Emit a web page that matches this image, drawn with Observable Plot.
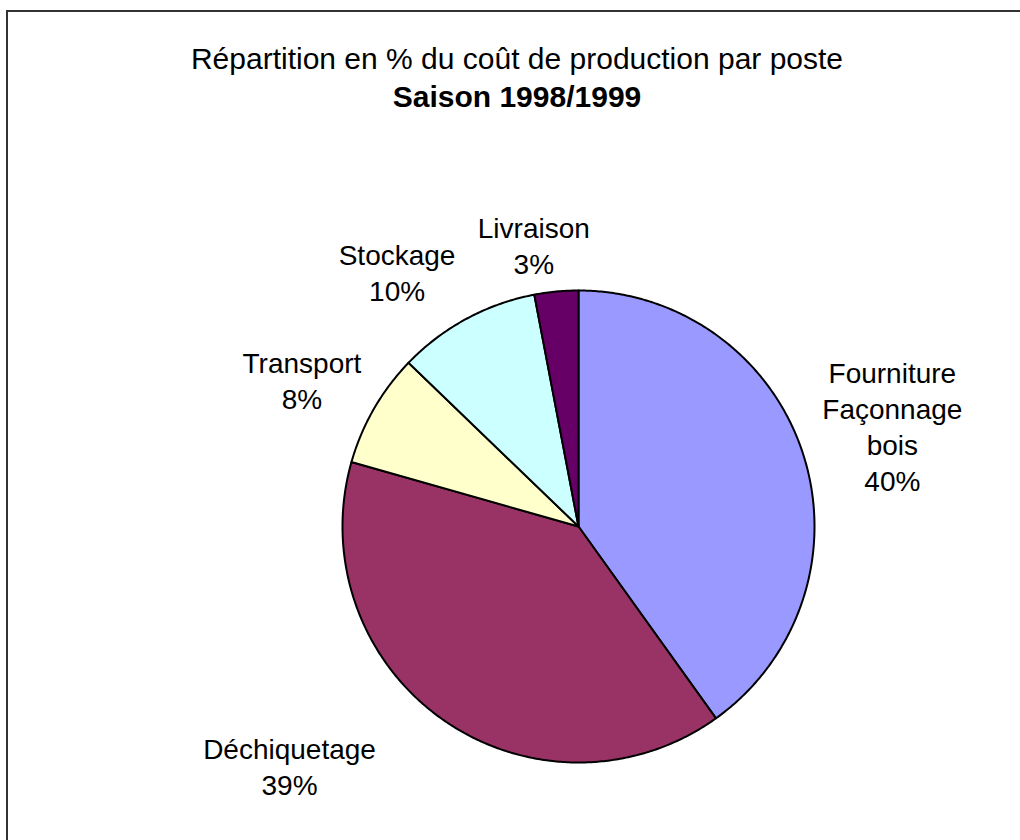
<!DOCTYPE html>
<html>
<head>
<meta charset="utf-8">
<script src="https://cdn.jsdelivr.net/npm/d3@7"></script>
<script src="https://cdn.jsdelivr.net/npm/@observablehq/plot@0.6"></script>
<style>
  html, body { margin: 0; padding: 0; background: #fff; overflow: hidden; }
  body { width: 1020px; height: 840px; position: relative; font-family: "Liberation Sans", Arial, sans-serif; }
  #frame { position: absolute; left: 6px; top: 10px; width: 1100px; height: 900px; border: 2px solid #333; box-sizing: border-box; }
  #title { position: absolute; left: 0; top: 40px; width: 1034px; text-align: center; font-size: 30px; line-height: 38px; color: #000; }
  #title b { font-weight: bold; }
  #chart { position: absolute; left: 0; top: 120px; }
</style>
</head>
<body>
<div id="frame"></div>
<div id="title">Répartition en % du coût de production par poste<br><b>Saison 1998/1999</b></div>
<div id="chart"></div>
<script>
// ---- data ----
const categories = ["Fourniture\nFaçonnage\nbois", "Déchiquetage", "Transport", "Stockage", "Livraison"];
const values = [40.1, 39.3, 7.8, 9.8, 3.0];
const colors = ["#9999FF", "#993366", "#FFFFCC", "#CCFFFF", "#660066"];

// ---- layout ----
const W = 1020, H = 720;
const cx = 578, cy = 406, R = 236;
const fontSize = 28, lineH = 36;
const labelRadius = 1.1;
const labelNudge = {"Déchiquetage": [-90, -3], "Stockage": [-30, 5], "Livraison": [-15, 12]};

const table = categories.map((c, i) => ({name: c, value: values[i]}));
const arcs = d3.pie().sort(null).value(d => d.value)(table);

// polygon points for each slice (pie units, y up)
const pts = [];
arcs.forEach(a => {
  const name = a.data.name;
  pts.push({name, x: 0, y: 0});
  const n = Math.max(2, Math.ceil((a.endAngle - a.startAngle) / (Math.PI / 360)));
  for (let k = 0; k <= n; k++) {
    const t = a.startAngle + (a.endAngle - a.startAngle) * k / n;
    pts.push({name, x: Math.sin(t), y: Math.cos(t)});
  }
});

// label positions
const ctx = document.createElement("canvas").getContext("2d");
ctx.font = `${fontSize}px "Liberation Sans", Arial, sans-serif`;
const labels = arcs.map(a => {
  const name = a.data.name;
  const text = name + "\n" + Math.round(a.data.value) + "%";
  const lines = text.split("\n");
  const w = d3.max(lines, l => ctx.measureText(l).width);
  const h = lines.length * lineH;
  const m = (a.startAngle + a.endAngle) / 2;
  const dx = Math.sin(m), dy = Math.cos(m);
  const nud = labelNudge[name] || [0, 0];
  // pixel offsets, converted to pie units
  const px = labelRadius * R * dx + dx * w / 2 + nud[0];
  const py = labelRadius * R * dy + dy * h / 2 - nud[1];
  return {text, x: px / R, y: py / R};
});

const chart = Plot.plot({
  width: W, height: H,
  margin: 0,
  x: {domain: [-1, 1], range: [cx - R, cx + R], axis: null},
  y: {domain: [-1, 1], range: [cy + R, cy - R], axis: null},
  color: {domain: categories, range: colors},
  style: {background: "transparent", overflow: "visible"},
  marks: [
    Plot.line(pts, {x: "x", y: "y", z: "name", fill: "name", stroke: "#000", strokeWidth: 2, curve: "linear-closed", strokeLinejoin: "round"}),
    Plot.text(labels, {x: "x", y: "y", text: "text", fontSize, fontFamily: '"Liberation Sans", Arial, sans-serif', lineHeight: lineH / fontSize, textAnchor: "middle", lineAnchor: "middle", fill: "#000"})
  ]
});
document.getElementById("chart").appendChild(chart);
</script>
</body>
</html>
